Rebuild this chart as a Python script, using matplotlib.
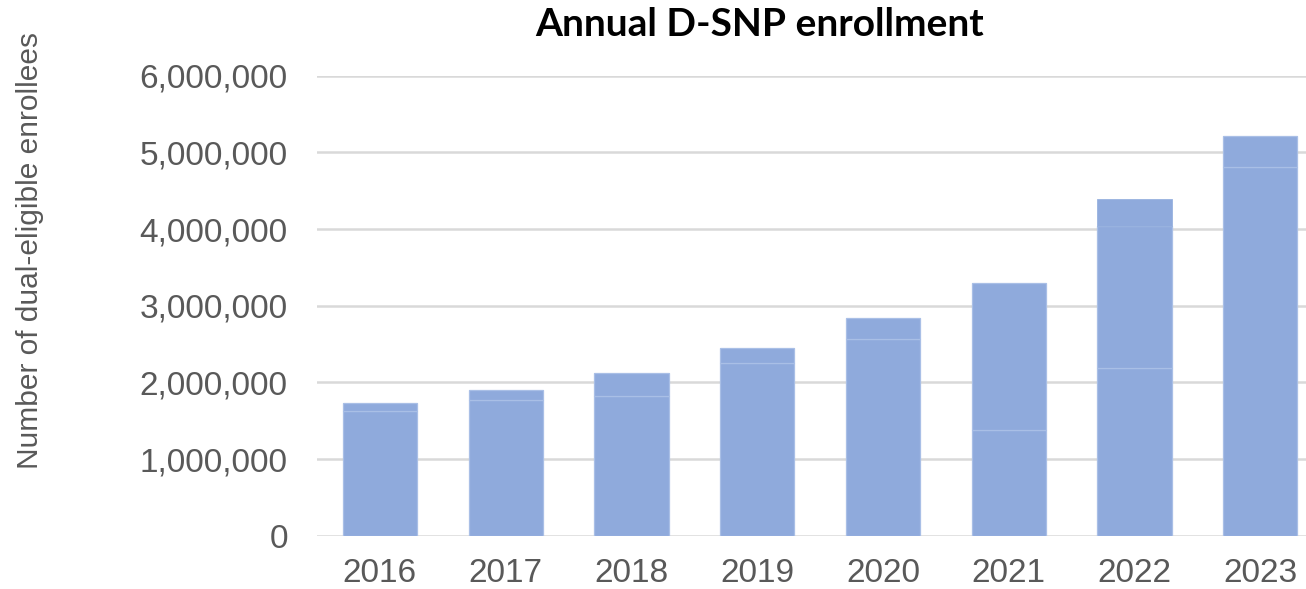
import numpy as np
import matplotlib
matplotlib.use("Agg")
import matplotlib.pyplot as plt
from matplotlib.ticker import FuncFormatter

# enrollment per year, split into stacked segments (millions of enrollees)
years = ["2016", "2017", "2018", "2019", "2020", "2021", "2022", "2023"]
seg_base = [1.630, 1.767, 1.817, 2.248, 2.562, 1.375, 2.183, 4.805]
seg_mid = [0.100, 0.134, 0.300, 0.200, 0.278, 1.925, 1.857, 0.412]
seg_top = [0.0, 0.0, 0.0, 0.0, 0.0, 0.0, 0.352, 0.0]
y_ticks = [0, 1_000_000, 2_000_000, 3_000_000, 4_000_000, 5_000_000, 6_000_000]

plt.rcParams["font.family"] = ["Liberation Sans", "DejaVu Sans"]

fill = "#8faadc"
seam = "#a9bfe6"
text_grey = "#595959"

fig = plt.figure(figsize=(13.06, 5.89), dpi=100)
ax = fig.add_axes([0.2427, 0.0905, 0.7573, 0.781])

x = np.arange(len(years))
base = np.array(seg_base) * 1e6
mid = np.array(seg_mid) * 1e6
top = np.array(seg_top) * 1e6

w = 0.59
ax.bar(x, base, width=w, color=fill, edgecolor=seam, linewidth=0.9, zorder=3)
ax.bar(x, mid, width=w, bottom=base, color=fill, edgecolor=seam, linewidth=0.9, zorder=3)
ax.bar(x[top > 0], top[top > 0], width=w, bottom=(base + mid)[top > 0],
       color=fill, edgecolor="#98b2df", linewidth=0.6, zorder=3)

ax.set_xlim(-0.5, 7.363)
ax.set_ylim(0, 6_000_000)
ax.set_yticks(y_ticks)
ax.yaxis.set_major_formatter(FuncFormatter(lambda v, p: f"{int(v):,}"))
ax.set_xticks(x)
ax.set_xticklabels(years)

ax.grid(axis="y", color="#d9d9d9", linewidth=1.8, zorder=0)
ax.set_axisbelow(True)
for s in ax.spines.values():
    s.set_visible(False)

ax.tick_params(axis="y", length=0, pad=21, labelsize=24, labelcolor=text_grey)
ax.tick_params(axis="x", length=0, pad=16, labelsize=24, labelcolor=text_grey)

fig.text(0.023, 0.575, "Number of dual-eligible enrollees", rotation=90,
         ha="center", va="center", fontsize=21.5, color=text_grey)

fig.text(0.582, 0.958, "Annual D-SNP enrollment", ha="center", va="center",
         fontsize=28, fontweight="bold", color="black", family=["Lato", "DejaVu Sans"])

fig.savefig("out.png", dpi=100)
